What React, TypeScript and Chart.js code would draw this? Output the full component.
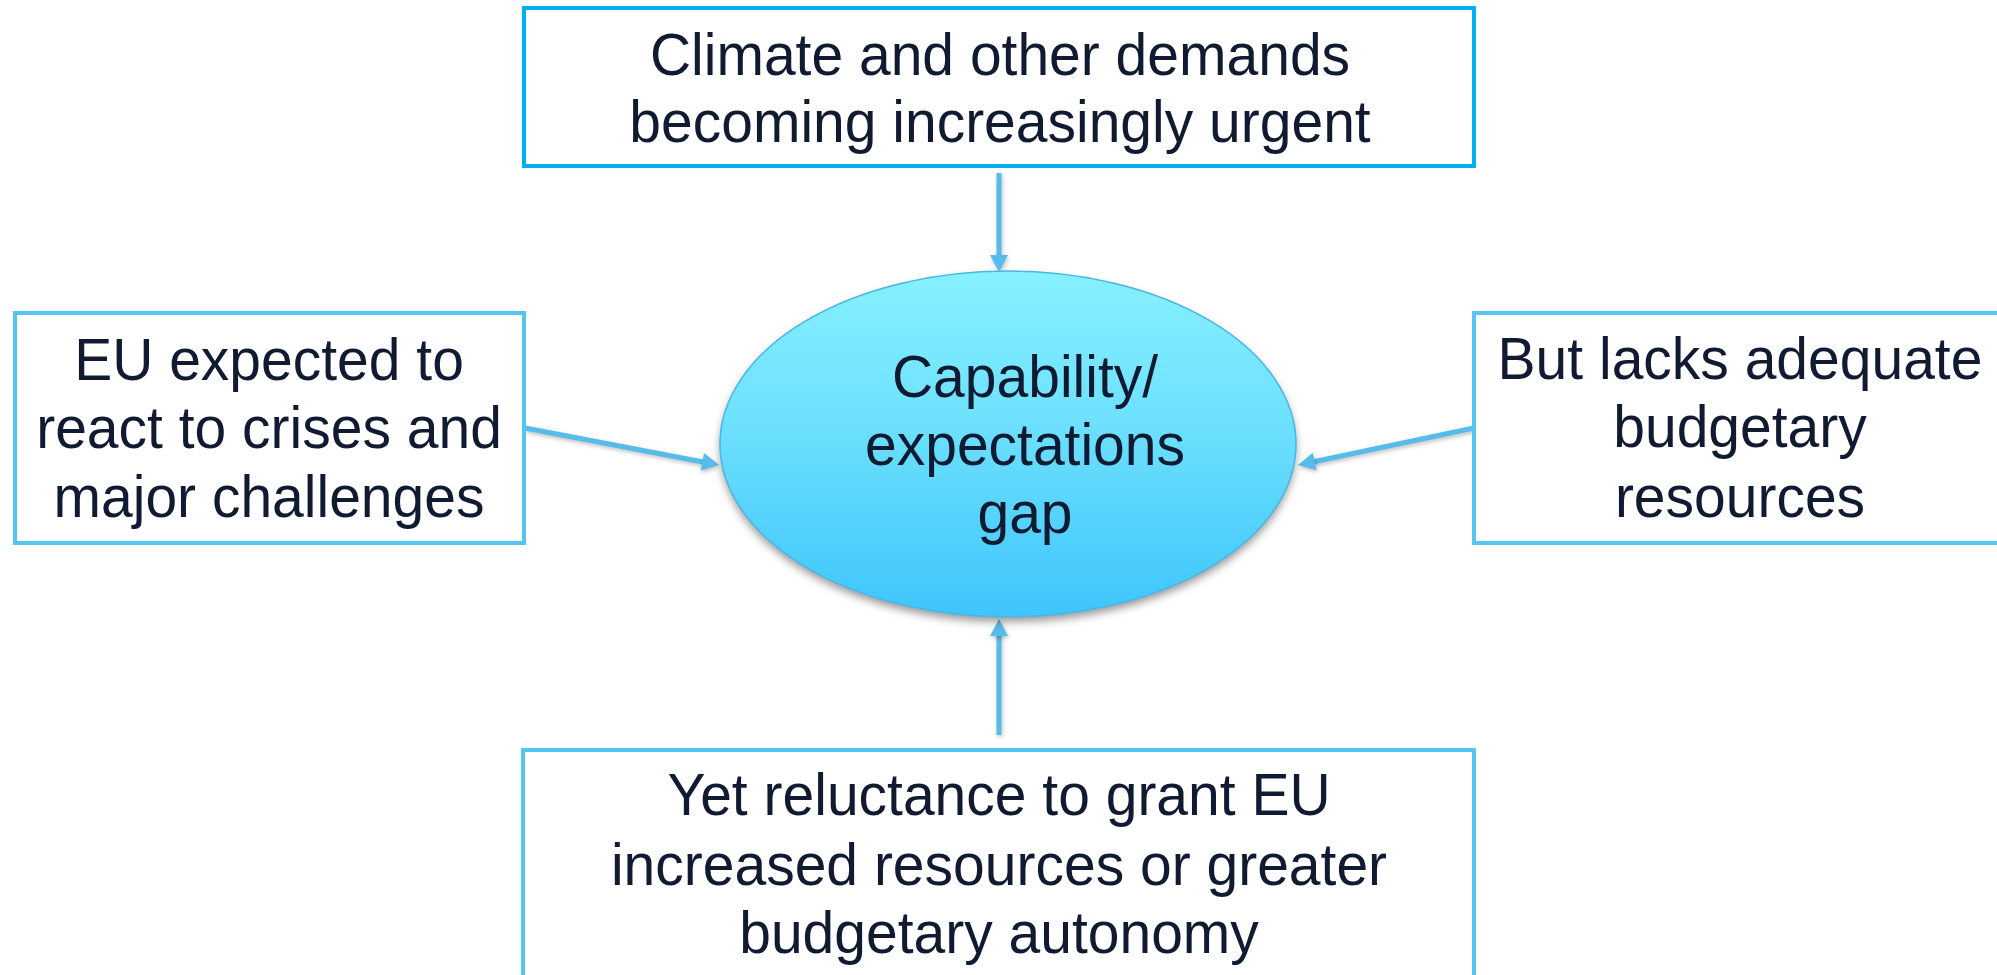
import React, { useEffect, useRef } from "react";
import { Chart, registerables } from "chart.js";

Chart.register(...registerables);

// ---- Content (text of each node) ----
const centreLabel = ["Capability/", "expectations", "gap"];
const topLabel = ["Climate and other demands", "becoming increasingly urgent"];
const leftLabel = ["EU expected to", "react to crises and", "major challenges"];
const rightLabel = ["But lacks adequate", "budgetary", "resources"];
const bottomLabel = ["Yet reluctance to grant EU", "increased resources or greater", "budgetary autonomy"];
const nodeNames = ["top", "left", "right", "bottom"];
const nodeLabels = [topLabel, leftLabel, rightLabel, bottomLabel];

// ---- Layout (chart units = pixels of a 1997 x 975 frame) ----
const W = 1997;
const H = 975;
const BOX_LAYOUT: Record<string, any> = {
  top: { x0: 524, y0: 8, x1: 1474, y1: 166, stroke: "#00B0F0", cx: 1000, baselines: [75, 142] },
  left: { x0: 15, y0: 313, x1: 524, y1: 543, stroke: "#56C5F0", cx: 269, baselines: [380, 448, 517] },
  right: { x0: 1474, y0: 313, x1: 2010, y1: 543, stroke: "#56C5F0", cx: 1740, baselines: [379, 447, 517] },
  bottom: { x0: 523, y0: 750, x1: 1474, y1: 995, stroke: "#56C5F0", cx: 999, baselines: [815, 885, 953] },
};
const ELLIPSE_LAYOUT = { cx: 1008, cy: 444, rx: 288, ry: 173, textX: 1025, baselines: [397, 465, 533] };
const ARROW_LAYOUT: Record<string, number[]> = {
  top: [999, 173, 999, 272],
  left: [525, 428, 719, 465],
  right: [1474, 428, 1298, 465],
  bottom: [999, 735, 999, 619],
};

const FONT = "59px 'Liberation Sans', Arial, sans-serif";
const TEXT_SCALE_X = 0.966;
const TEXT_COLOR = "#101b32";
const ARROW_COLOR = "#56BDEA";

function drawLine(ctx: CanvasRenderingContext2D, text: string, x: number, y: number) {
  ctx.save();
  ctx.translate(x, y);
  ctx.scale(TEXT_SCALE_X, 1);
  ctx.fillStyle = TEXT_COLOR;
  ctx.font = FONT;
  ctx.textAlign = "center";
  ctx.textBaseline = "alphabetic";
  ctx.fillText(text, 0, 0);
  ctx.restore();
}

const diagramPlugin = {
  id: "diagram",
  afterDraw(chart: any) {
    const ctx: CanvasRenderingContext2D = chart.ctx;
    const xs = chart.scales.x;
    const ys = chart.scales.y;
    const px = (v: number) => xs.getPixelForValue(v);
    const py = (v: number) => ys.getPixelForValue(v);

    ctx.save();
    // arrows
    nodeNames.forEach((name) => {
      const [x0, y0, x1, y1] = ARROW_LAYOUT[name];
      const ax = px(x0), ay = py(y0), bx = px(x1), by = py(y1);
      const ang = Math.atan2(by - ay, bx - ax);
      const headLen = 17;
      const headW = 9;
      ctx.save();
      ctx.shadowColor = "rgba(0,0,0,0.25)";
      ctx.shadowBlur = 4;
      ctx.shadowOffsetX = 1;
      ctx.shadowOffsetY = 2;
      ctx.strokeStyle = ARROW_COLOR;
      ctx.fillStyle = ARROW_COLOR;
      ctx.lineWidth = 5;
      ctx.beginPath();
      ctx.moveTo(ax, ay);
      ctx.lineTo(bx - Math.cos(ang) * headLen * 0.8, by - Math.sin(ang) * headLen * 0.8);
      ctx.stroke();
      ctx.beginPath();
      ctx.moveTo(bx, by);
      const hx = bx - Math.cos(ang) * headLen;
      const hy = by - Math.sin(ang) * headLen;
      ctx.lineTo(hx + Math.sin(ang) * headW, hy - Math.cos(ang) * headW);
      ctx.lineTo(hx - Math.sin(ang) * headW, hy + Math.cos(ang) * headW);
      ctx.closePath();
      ctx.fill();
      ctx.restore();
    });

    // boxes
    nodeNames.forEach((name, i) => {
      const b = BOX_LAYOUT[name];
      const x0 = px(b.x0), y0 = py(b.y0), x1 = px(b.x1), y1 = py(b.y1);
      ctx.fillStyle = "#ffffff";
      ctx.fillRect(x0, y0, x1 - x0, y1 - y0);
      ctx.strokeStyle = b.stroke;
      ctx.lineWidth = 4;
      ctx.strokeRect(x0, y0, x1 - x0, y1 - y0);
      nodeLabels[i].forEach((line, j) => {
        drawLine(ctx, line, px(b.cx), py(b.baselines[j]));
      });
    });

    // centre ellipse
    const e = ELLIPSE_LAYOUT;
    const ecx = px(e.cx), ecy = py(e.cy);
    const erx = px(e.cx + e.rx) - ecx;
    const ery = py(e.cy + e.ry) - ecy;
    const grad = ctx.createLinearGradient(0, ecy - ery, 0, ecy + ery);
    grad.addColorStop(0, "#86F1FE");
    grad.addColorStop(0.45, "#6CE0FD");
    grad.addColorStop(1, "#3EC5FB");
    ctx.save();
    ctx.shadowColor = "rgba(0,0,0,0.4)";
    ctx.shadowBlur = 9;
    ctx.shadowOffsetX = 0;
    ctx.shadowOffsetY = 5;
    ctx.beginPath();
    ctx.ellipse(ecx, ecy, erx, ery, 0, 0, Math.PI * 2);
    ctx.fillStyle = grad;
    ctx.fill();
    ctx.restore();
    ctx.beginPath();
    ctx.ellipse(ecx, ecy, erx, ery, 0, 0, Math.PI * 2);
    ctx.strokeStyle = "#4AB6E6";
    ctx.lineWidth = 1.5;
    ctx.stroke();
    centreLabel.forEach((line, j) => {
      drawLine(ctx, line, px(e.textX), py(e.baselines[j]));
    });
    ctx.restore();
  },
};

export default function App() {
  const canvasRef = useRef<HTMLCanvasElement | null>(null);

  useEffect(() => {
    document.body.style.margin = "0";
    const canvas = canvasRef.current;
    if (!canvas) return;
    const anchors = [
      { x: ELLIPSE_LAYOUT.cx, y: ELLIPSE_LAYOUT.cy },
      ...nodeNames.map((n) => ({
        x: (BOX_LAYOUT[n].x0 + BOX_LAYOUT[n].x1) / 2,
        y: (BOX_LAYOUT[n].y0 + BOX_LAYOUT[n].y1) / 2,
      })),
    ];
    const chart = new Chart(canvas, {
      type: "scatter",
      data: {
        datasets: [
          {
            label: "nodes",
            data: anchors,
            pointRadius: 0,
            pointHoverRadius: 0,
          },
        ],
      },
      options: {
        animation: false,
        responsive: false,
        maintainAspectRatio: false,
        devicePixelRatio: 1,
        layout: { padding: 0 },
        events: [],
        plugins: {
          legend: { display: false },
          tooltip: { enabled: false },
          title: { display: false },
        },
        scales: {
          x: { type: "linear", min: 0, max: W, display: false },
          y: { type: "linear", min: 0, max: H, reverse: true, display: false },
        },
      },
      plugins: [diagramPlugin],
    });
    if ((document as any).fonts && (document as any).fonts.load) {
      (document as any).fonts.load(FONT).then(() => chart.update()).catch(() => {});
    }
    return () => {
      chart.destroy();
    };
  }, []);

  return (
    <div style={{ width: W, height: H, position: "relative", background: "#ffffff" }}>
      <canvas ref={canvasRef} width={W} height={H} style={{ display: "block", width: W, height: H }} />
    </div>
  );
}
